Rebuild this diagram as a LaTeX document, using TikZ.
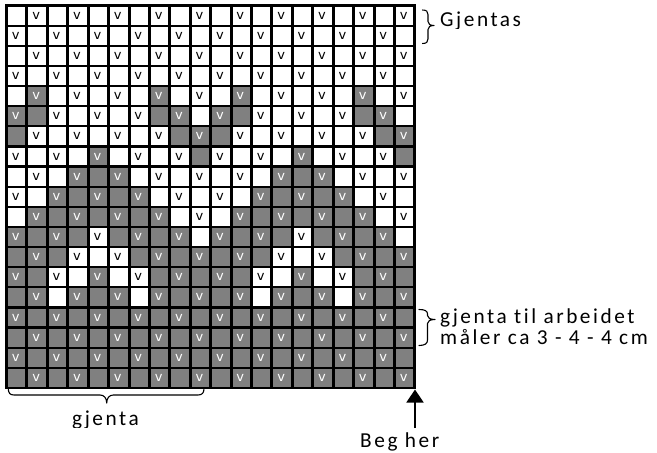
\documentclass[tikz,border=0pt]{standalone}
\usepackage{fontspec}
\setmainfont{Carlito}
\newfontfamily\lblfont{Carlito}[LetterSpace=12,Ligatures={NoCommon}]
\newfontfamily\vfont{DejaVu Sans}
\usetikzlibrary{arrows.meta}
\definecolor{cellgray}{HTML}{808080}
\begin{document}
\begin{tikzpicture}[x=1pt,y=-1pt,
  vmark/.style={inner sep=0pt, font=\vfont\fontsize{13}{13}\selectfont},
  lbl/.style={inner sep=0pt, font=\lblfont\fontsize{21.3}{21.3}\selectfont, anchor=base west},
  bracepath/.style={line width=1.1pt, line cap=round, line join=round},
  vline/.style={line width=3pt},
  hline/.style={line width=2.2pt}]
\useasboundingbox (0,0) rectangle (657,453);
\fill[white] (0,0) rectangle (657,453);
\def\gx{6.5}\def\gy{5.5}\def\cw{20.42}\def\ch{20.13}
% black v marks on every v cell
\foreach \r in {1,...,19}{
  \foreach \c in {1,...,20}{
    \pgfmathtruncatemacro\p{mod(\r+\c,2)}
    \ifnum\p=1
      \node[vmark,text=black] at ({\gx+(\c-0.55)*\cw},{\gy+(\r-0.5)*\ch}) {v};
    \fi
  }}
% gray cells (pattern repeats every 10 columns)
\foreach \r/\gs in {5/{2,8},6/{1,2,8,9},7/{1,9,10},8/{5,10},9/{4,5,6},10/{3,4,5,6,7},
  11/{2,3,4,5,6,7,8},12/{1,2,3,4,6,7,8,9},13/{1,2,3,7,8,9,10},14/{1,2,5,8,9,10},
  15/{1,2,4,5,6,8,9,10},16/{1,...,10},17/{1,...,10},18/{1,...,10},19/{1,...,10}}{
  \foreach \b in \gs {
    \foreach \k in {0,10}{
      \pgfmathtruncatemacro\c{\b+\k}
      \fill[cellgray] ({\gx+(\c-1)*\cw},{\gy+(\r-1)*\ch}) rectangle ++(\cw,\ch);
      \pgfmathtruncatemacro\p{mod(\r+\c,2)}
      \ifnum\p=1
        \node[vmark,text=white] at ({\gx+(\c-0.55)*\cw},{\gy+(\r-0.5)*\ch}) {v};
      \fi
    }}}
% grid lines
\foreach \c in {0,...,20}
  \draw[vline] ({\gx+\c*\cw},{\gy-1.1}) -- ({\gx+\c*\cw},{\gy+19*\ch+1.1});
\foreach \r in {0,...,19}
  \draw[hline] ({\gx-1.5},{\gy+\r*\ch}) -- ({\gx+20*\cw+1.5},{\gy+\r*\ch});
% brace: Gjentas
\draw[bracepath] (422.5,10) .. controls (426.5,10) and (428,11.5) .. (428,14.5) -- (428,21.5)
  .. controls (428,24) and (430,25.5) .. (434,25.5)
  .. controls (430,25.5) and (428,27) .. (428,29.5) -- (428,39)
  .. controls (428,42) and (426.5,43.5) .. (422.5,43.5);
\begin{scope}
  \clip (430,0) rectangle (657,28.8);
  \node[lbl] (gjentas) at (440,26.7) {Gjentas};
\end{scope}
% brace: gjenta til arbeidet
\draw[bracepath] (419,309.5) .. controls (425,309.5) and (427.5,311) .. (427.5,314) -- (427.5,315.5)
  .. controls (427.5,318) and (430,319.5) .. (435,319.5)
  .. controls (430,319.5) and (427.5,321) .. (427.5,323.5) -- (427.5,340)
  .. controls (427.5,343.5) and (425,345.5) .. (419,345.5);
\node[lbl] (gta1) at (440,323.5) {gjenta til arbeidet};
\node[lbl] (gta2) at (440,344) {måler ca 3 - 4 - 4 cm};
% brace: gjenta (bottom)
\draw[bracepath] (8.3,388.5) .. controls (8.3,393) and (10,395) .. (14,395) -- (100,395)
  .. controls (104,395) and (106.7,398) .. (106.7,403)
  .. controls (106.7,398) and (109.4,395) .. (113.4,395) -- (198,395)
  .. controls (202,395) and (204,393) .. (204,388.5);
\begin{scope}
  \clip (0,405) rectangle (300,427);
  \node[lbl] (gjenta) at (72,425) {gjenta};
\end{scope}
% start arrow
\coordinate (gridBR) at (415,389.5);
\coordinate (arrowfoot) at (415,428);
\draw[line width=1.6pt,-{Triangle[width=17pt,length=13pt]}] (arrowfoot) -- (gridBR);
\node[lbl] (begher) at (360,447) {Beg her};
\end{tikzpicture}
\end{document}
